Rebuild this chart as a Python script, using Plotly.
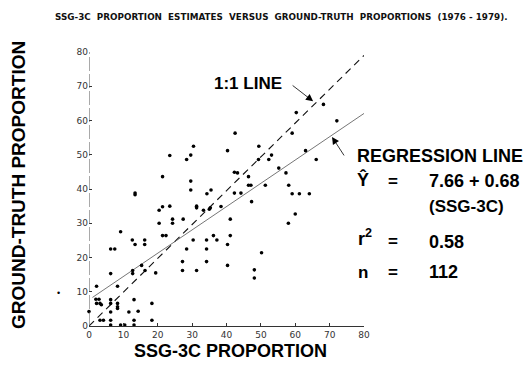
import plotly.graph_objects as go

# SSG-3C proportion (x) vs ground-truth proportion (y)
ssg3c = [23.5, 21.4, 13.4, 13.4, 21.4, 23.5, 20.4, 24.3, 24.3, 20.4,
         9.2, 12.6, 13.4, 16.2, 16.2, 21.4, 22.4, 6.3, 7.5, 27.2,
         27.2, 19.4, 16.3, 15.3, 12.7, 12.7, 6.3, 2.2, 8.3, 2.0,
         2.9, 2.2, 3.2, 0.0, 6.3, 6.3, 8.3, 8.3, 8.3, 13.1,
         14.3, 18.3, 18.3, 3.2, 4.2, 6.3, 6.3, 9.2, 10.4, 13.1,
         13.1, 42.5, 30.4, 29.6, 28.4, 40.3, 49.4, 49.3, 52.3, 53.1,
         55.2, 42.3, 43.2, 46.4, 29.6, 29.6, 46.4, 47.1, 51.3, 35.5,
         34.3, 42.3, 44.2, 47.3, 31.3, 31.3, 38.4, 35.0, 33.3, 68.2,
         60.3, 72.1, 59.1, 63.0, 66.1, 57.3, 58.1, 59.1, 61.2, 64.1,
         60.0, 58.0, 27.4, 41.1, 30.3, 34.2, 37.2, 36.2, 41.1, 40.3,
         28.4, 34.2, 50.2, 34.2, 31.3, 40.3, 48.1, 48.1, 11.6, 3.6,
         35.3, 6.3]
ground_truth = [49.8, 43.6, 38.8, 38.3, 34.8, 35.0, 33.8, 31.2, 30.0, 30.0,
                27.5, 25.1, 23.8, 25.1, 23.8, 26.4, 26.4, 22.5, 22.5, 18.8,
                16.2, 15.5, 16.2, 17.7, 16.2, 15.3, 15.3, 11.6, 11.6, 7.8,
                7.8, 6.6, 6.6, 4.2, 7.7, 6.6, 6.6, 5.6, 5.1, 7.7,
                4.3, 6.6, 1.7, 1.7, 1.7, 1.7, 0.3, 0.3, 0.3, 1.7,
                0.3, 56.3, 52.5, 49.9, 48.6, 51.2, 52.5, 48.6, 48.6, 49.9,
                46.1, 44.9, 44.7, 43.6, 42.3, 39.7, 41.1, 41.1, 41.1, 39.7,
                38.6, 38.8, 38.8, 36.3, 35.0, 34.5, 34.9, 34.1, 33.8, 64.7,
                62.3, 59.9, 56.3, 51.2, 48.6, 44.7, 41.1, 38.6, 38.6, 38.6,
                32.7, 30.0, 31.2, 31.2, 25.1, 25.1, 25.1, 26.4, 26.4, 23.8,
                22.5, 22.5, 21.4, 18.8, 16.2, 17.7, 16.4, 14.0, 4.1, 6.2,
                34.5, 4.1]

ticks = [0, 10, 20, 30, 40, 50, 60, 70, 80]
one_to_one_x = [0, 80]
one_to_one_y = [0, 79]
reg_intercept = 7.66
reg_slope = 0.68
reg_x = [1, 80]
reg_y = [reg_intercept + reg_slope * v for v in reg_x]

BOLD = "Liberation Sans"

fig = go.Figure()
fig.add_trace(go.Scatter(x=one_to_one_x, y=one_to_one_y, mode="lines",
                         line=dict(color="#111", width=1.1, dash="7px,5px"),
                         hoverinfo="skip", showlegend=False))
fig.add_trace(go.Scatter(x=reg_x, y=reg_y, mode="lines",
                         line=dict(color="#666", width=0.9),
                         hoverinfo="skip", showlegend=False))
fig.add_trace(go.Scatter(x=ssg3c, y=ground_truth, mode="markers",
                         marker=dict(color="#000", size=3.6),
                         showlegend=False, cliponaxis=False))

# y axis drawn as a broken line (scan look)
fig.add_shape(type="line", xref="x", yref="y", x0=0, x1=0, y0=0, y1=80,
              line=dict(color="#555", width=1, dash="14px,3px"))

W, H = 529, 376
L, R, T, B = 89, 165, 52, 50
pw, ph = W - L - R, H - T - B


def px(xp):
    return (xp - L) / pw


def py(yp):
    return (H - B - yp) / ph


def txt(s, x, y, size, xanchor="left", color="#000", family=BOLD, bold=True, angle=0):
    fig.add_annotation(text=(f"<b>{s}</b>" if bold else s), xref="paper", yref="paper",
                       x=px(x), y=py(y), xanchor=xanchor, yanchor="middle",
                       showarrow=False, textangle=angle,
                       font=dict(family=family, size=size, color=color))


txt("SSG-3C  PROPORTION  ESTIMATES  VERSUS  GROUND-TRUTH  PROPORTIONS  (1976 - 1979).",
    281, 17, 8.8, xanchor="center", color="#111", family="DejaVu Sans")
txt("GROUND-TRUTH PROPORTION", 18, 185, 19, xanchor="center", angle=-90)
txt("SSG-3C PROPORTION", 230, 351, 18, xanchor="center")
txt("1:1 LINE", 212, 83, 17)
txt("REGRESSION LINE", 355, 156, 18)
txt("Ŷ", 363, 179, 18, xanchor="center")
txt("=", 393, 181, 17, xanchor="center")
txt("7.66 + 0.68", 427, 181, 18)
txt("(SSG-3C)", 427, 206, 17)
txt("r<sup>2</sup>", 356, 237, 18)
txt("=", 393, 242, 17, xanchor="center")
txt("0.58", 427, 242, 18)
txt("n", 356, 272, 17)
txt("=", 393, 272, 17, xanchor="center")
txt("112", 427, 272, 18)
# stray speck outside the axes in the scanned original
txt("•", 58, 293, 9, xanchor="center", bold=False)

# arrows
fig.add_annotation(x=65.2, y=65.6, xref="x", yref="y", text="", showarrow=True,
                   ax=-22, ay=-17, arrowhead=2, arrowsize=1.8, arrowwidth=0.8,
                   arrowcolor="#000", standoff=0)
fig.add_annotation(x=70.7, y=55.2, xref="x", yref="y", text="", showarrow=True,
                   ax=13, ay=20, arrowhead=2, arrowsize=1.8, arrowwidth=0.8,
                   arrowcolor="#000", standoff=0)

fig.update_xaxes(range=[0, 80], tickvals=ticks, ticks="inside", ticklen=3,
                 tickcolor="#333", showline=True, linecolor="#333", linewidth=1,
                 showgrid=False, zeroline=False, automargin=False,
                 tickfont=dict(family="DejaVu Sans", size=9, color="#333"))
fig.update_yaxes(range=[0, 80], tickvals=ticks, ticks="inside", ticklen=3,
                 tickcolor="#333", showline=False, showgrid=False, zeroline=False,
                 automargin=False,
                 tickfont=dict(family="DejaVu Sans", size=9, color="#333"))

fig.update_layout(width=W, height=H, margin=dict(l=L, r=R, t=T, b=B),
                  paper_bgcolor="white", plot_bgcolor="white", showlegend=False)

fig.write_html("out.html", config={"displayModeBar": False},
               post_script="document.body.style.margin='0';document.body.style.overflow='hidden';")
